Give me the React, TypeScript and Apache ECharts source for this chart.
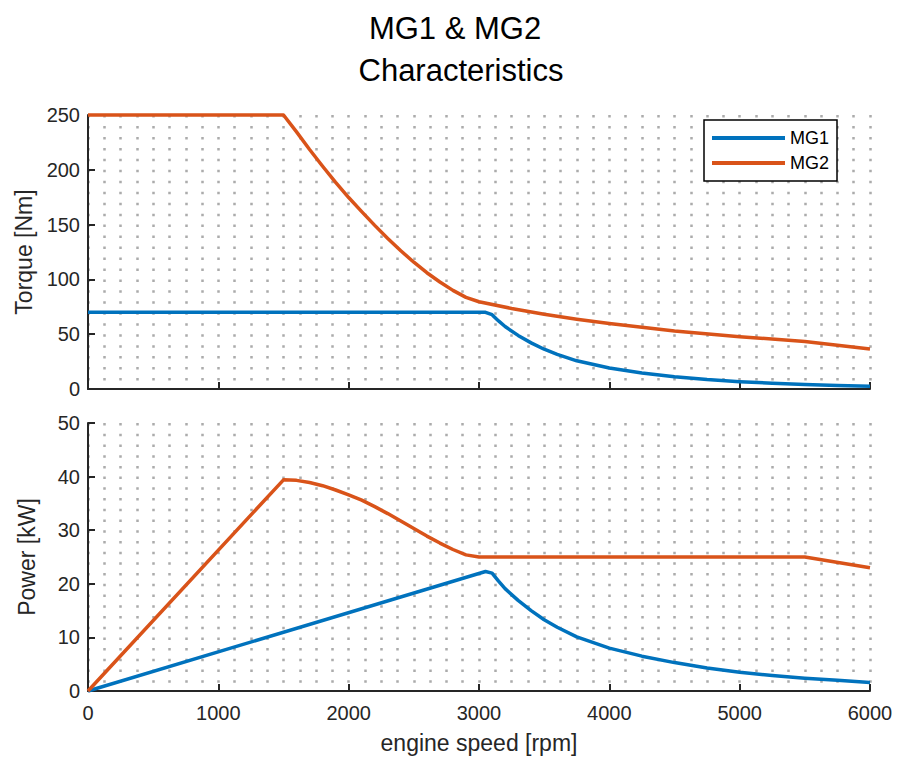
import React, { useEffect, useRef } from "react";
import * as echarts from "echarts";

// ---- data ----
const speedMG1 = [0, 3050, 3100, 3150, 3200, 3300, 3400, 3500, 3600, 3750, 4000, 4250, 4500, 4750, 5000, 5250, 5500, 5750, 6000];
const torqueMG1 = [70, 70, 67.8, 62.1, 57, 48.9, 42.1, 36.3, 31.6, 25.7, 19.1, 14.6, 11.2, 8.6, 6.7, 5.3, 4.2, 3.3, 2.5];
const powerMG1 = [0, 22.3, 22, 20.5, 19.1, 16.9, 15, 13.3, 11.9, 10.1, 8, 6.5, 5.3, 4.3, 3.5, 2.9, 2.4, 2, 1.6];

const speedMG2 = [0, 1500, 1600, 1700, 1800, 1900, 2000, 2100, 2200, 2300, 2400, 2500, 2600, 2700, 2800, 2900, 3000, 3250, 3500, 3750, 4000, 4500, 5000, 5500, 6000];
const torqueMG2 = [250, 250, 234.6, 218.5, 203.2, 188.5, 174.7, 161.8, 149.3, 137.4, 126.1, 115.7, 106.1, 97.6, 90, 83.6, 79.6, 73.5, 68.2, 63.7, 59.7, 53, 47.7, 43.4, 36.6];
const powerMG2 = [0, 39.4, 39.3, 38.9, 38.3, 37.5, 36.6, 35.6, 34.4, 33.1, 31.7, 30.3, 28.9, 27.6, 26.4, 25.4, 25, 25, 25, 25, 25, 25, 25, 25, 23];

const titleLines = ["MG1 & MG2", "Characteristics"];
const seriesNames = ["MG1", "MG2"];
const colors = ["#0072BD", "#D95319"];

const FONT = "'Liberation Sans', Arial, Helvetica, sans-serif";
const TXT = "#262626";

const pairs = (xs: number[], ys: number[]) => xs.map((x, i) => [x, ys[i]]);

export default function App() {
  const ref = useRef<HTMLDivElement>(null);
  useEffect(() => {
    if (!ref.current) return;
    const chart = echarts.init(ref.current, null, { renderer: "svg" });
    const dotTop = { color: "#ababab", width: 2.5, type: [2.5, 8.46] as any };
    const dotBot = { color: "#ababab", width: 2.5, type: [2.5, 8.22] as any };
    const axisLine = { show: true, onZero: false, lineStyle: { color: TXT, width: 2 } };
    const axisTick = { show: true, inside: true, length: 7, lineStyle: { color: TXT, width: 2 } };
    const mkX = (idx: number, labels: boolean, dot: any) => ({
      type: "value",
      gridIndex: idx,
      min: 0,
      max: 6000,
      interval: 1000,
      axisLine,
      axisTick,
      axisLabel: labels
        ? { show: true, color: TXT, fontSize: 20, fontFamily: FONT, margin: 12, formatter: (v: number) => String(v) }
        : { show: false },
      splitLine: { show: true, lineStyle: dot },
      minorTick: { show: false, splitNumber: 8 },
      minorSplitLine: { show: true, lineStyle: dot },
      name: labels ? "engine speed [rpm]" : "",
      nameLocation: "middle",
      nameGap: 40,
      nameTextStyle: { color: TXT, fontSize: 23, fontFamily: FONT },
    });
    const mkY = (idx: number, max: number, interval: number, name: string) => ({
      type: "value",
      gridIndex: idx,
      min: 0,
      max,
      interval,
      axisLine,
      axisTick,
      axisLabel: { show: true, color: TXT, fontSize: 20, fontFamily: FONT, margin: 8 },
      splitLine: { show: false },
      name,
      nameLocation: "middle",
      nameGap: 50,
      nameTextStyle: { color: TXT, fontSize: 23, fontFamily: FONT },
    });
    const line = (name: string, color: string, xi: number, data: number[][]) => ({
      type: "line",
      name,
      xAxisIndex: xi,
      yAxisIndex: xi,
      data,
      symbol: "none",
      clip: false,
      lineStyle: { color, width: 3.5, join: "round" },
      itemStyle: { color },
      z: 3,
    });
    chart.setOption({
      animation: false,
      backgroundColor: "#ffffff",
      graphic: [
        {
          type: "text",
          x: 455,
          y: 28,
          style: { text: titleLines[0], fill: "#000", font: `31px ${FONT}`, textAlign: "center", textVerticalAlign: "middle" },
        },
        {
          type: "text",
          x: 461,
          y: 70,
          style: { text: titleLines[1], fill: "#000", font: `31px ${FONT}`, textAlign: "center", textVerticalAlign: "middle" },
        },
      ],
      legend: {
        data: seriesNames,
        orient: "vertical",
        left: 704,
        top: 120,
        icon: "rect",
        itemWidth: 73,
        itemHeight: 4,
        itemGap: 7,
        padding: [9, 8, 9, 8],
        backgroundColor: "#ffffff",
        borderColor: "#000",
        borderWidth: 1.5,
        borderRadius: 0,
        textStyle: { color: "#000", fontSize: 18, fontFamily: FONT },
      },
      grid: [
        { left: 88, top: 115, width: 782, height: 274, containLabel: false },
        { left: 88, top: 423, width: 782, height: 268, containLabel: false },
      ],
      xAxis: [mkX(0, false, dotTop), mkX(1, true, dotBot)],
      yAxis: [mkY(0, 250, 50, "Torque [Nm]"), mkY(1, 50, 10, "Power [kW]")],
      series: [
        line(seriesNames[0], colors[0], 0, pairs(speedMG1, torqueMG1)),
        line(seriesNames[1], colors[1], 0, pairs(speedMG2, torqueMG2)),
        line(seriesNames[0], colors[0], 1, pairs(speedMG1, powerMG1)),
        line(seriesNames[1], colors[1], 1, pairs(speedMG2, powerMG2)),
      ],
    });
    return () => chart.dispose();
  }, []);
  return (
    <div
      ref={ref}
      style={{ position: "absolute", left: 0, top: 0, width: 900, height: 762, background: "#fff" }}
    />
  );
}
